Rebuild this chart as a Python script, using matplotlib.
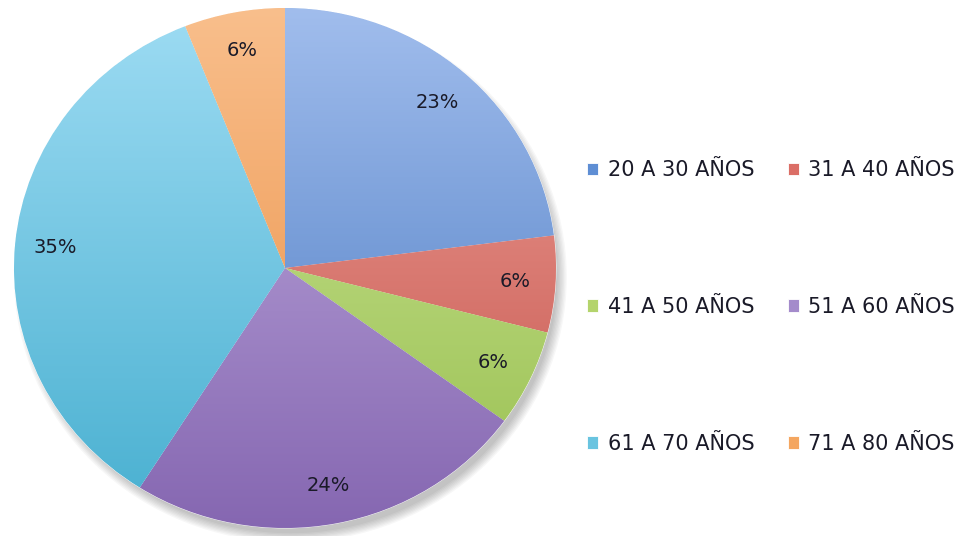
import matplotlib
matplotlib.use("Agg")
import matplotlib.pyplot as plt
import numpy as np
from matplotlib.colors import LinearSegmentedColormap
from matplotlib.patches import Ellipse

categories = ["20 A 30 AÑOS", "31 A 40 AÑOS", "41 A 50 AÑOS",
              "51 A 60 AÑOS", "61 A 70 AÑOS", "71 A 80 AÑOS"]
values = [23, 6, 6, 24, 35, 6]
base_colors = ["#5E8ED4", "#DB6E66", "#B4D46C", "#A48BCB", "#69C4E0", "#F4A660"]
light_colors = ["#A3BFEE", "#EFA29A", "#CDE69A", "#C4B1E2", "#A0DDF4", "#F9C08E"]
dark_colors = ["#4374BE", "#C4524A", "#98BF4E", "#8465B0", "#45AECF", "#E98B3E"]

plt.rcParams['font.family'] = ['DejaVu Sans']

W, H = 971, 536
fig = plt.figure(figsize=(W / 100, H / 100), dpi=100)
ax = fig.add_axes([14 / W, 8 / H, 542 / W, 520 / H])

wedges, texts, autotexts = ax.pie(
    values, colors=base_colors, startangle=90, counterclock=False,
    autopct=lambda p: f"{p:.0f}%", pctdistance=0.85,
    wedgeprops=dict(linewidth=0.6, edgecolor="white"),
    textprops=dict(fontsize=14, color="#1a1a28"),
    radius=1.0)
ax.set_aspect('auto')

# soft shadow (bottom-right)
for k in range(8):
    e = Ellipse((0.02, -0.035), 1.97 + 0.01 * k, 1.97 + 0.01 * k,
                facecolor="black", edgecolor="none", alpha=0.03, zorder=0,
                clip_on=False)
    ax.add_patch(e)

# gradient fills clipped to wedges
for w, lc, dc in zip(wedges, light_colors, dark_colors):
    cmap = LinearSegmentedColormap.from_list("g", [dc, lc])
    grad = np.linspace(0, 1, 256).reshape(-1, 1)
    im = ax.imshow(grad, cmap=cmap, extent=(-1.05, 1.05, -1.05, 1.05),
                   origin="lower", aspect="auto", zorder=w.get_zorder() + 0.1)
    im.set_clip_path(w)
for t in autotexts:
    t.set_zorder(10)
ax.set_xlim(-1.0, 1.0)
ax.set_ylim(-1.0, 1.0)
ax.axis('off')

order = [0, 2, 4, 1, 3, 5]
leg = fig.legend([wedges[i] for i in order], [categories[i] for i in order],
                 ncol=2, loc="center left",
                 bbox_to_anchor=(568 / W, 1 - 307 / H), frameon=False,
                 fontsize=15, handlelength=0.55, handleheight=0.55,
                 handletextpad=0.45, columnspacing=1.6, labelspacing=5.6,
                 labelcolor="#1a1a28")

fig.savefig("out.png", dpi=100, facecolor="white")
